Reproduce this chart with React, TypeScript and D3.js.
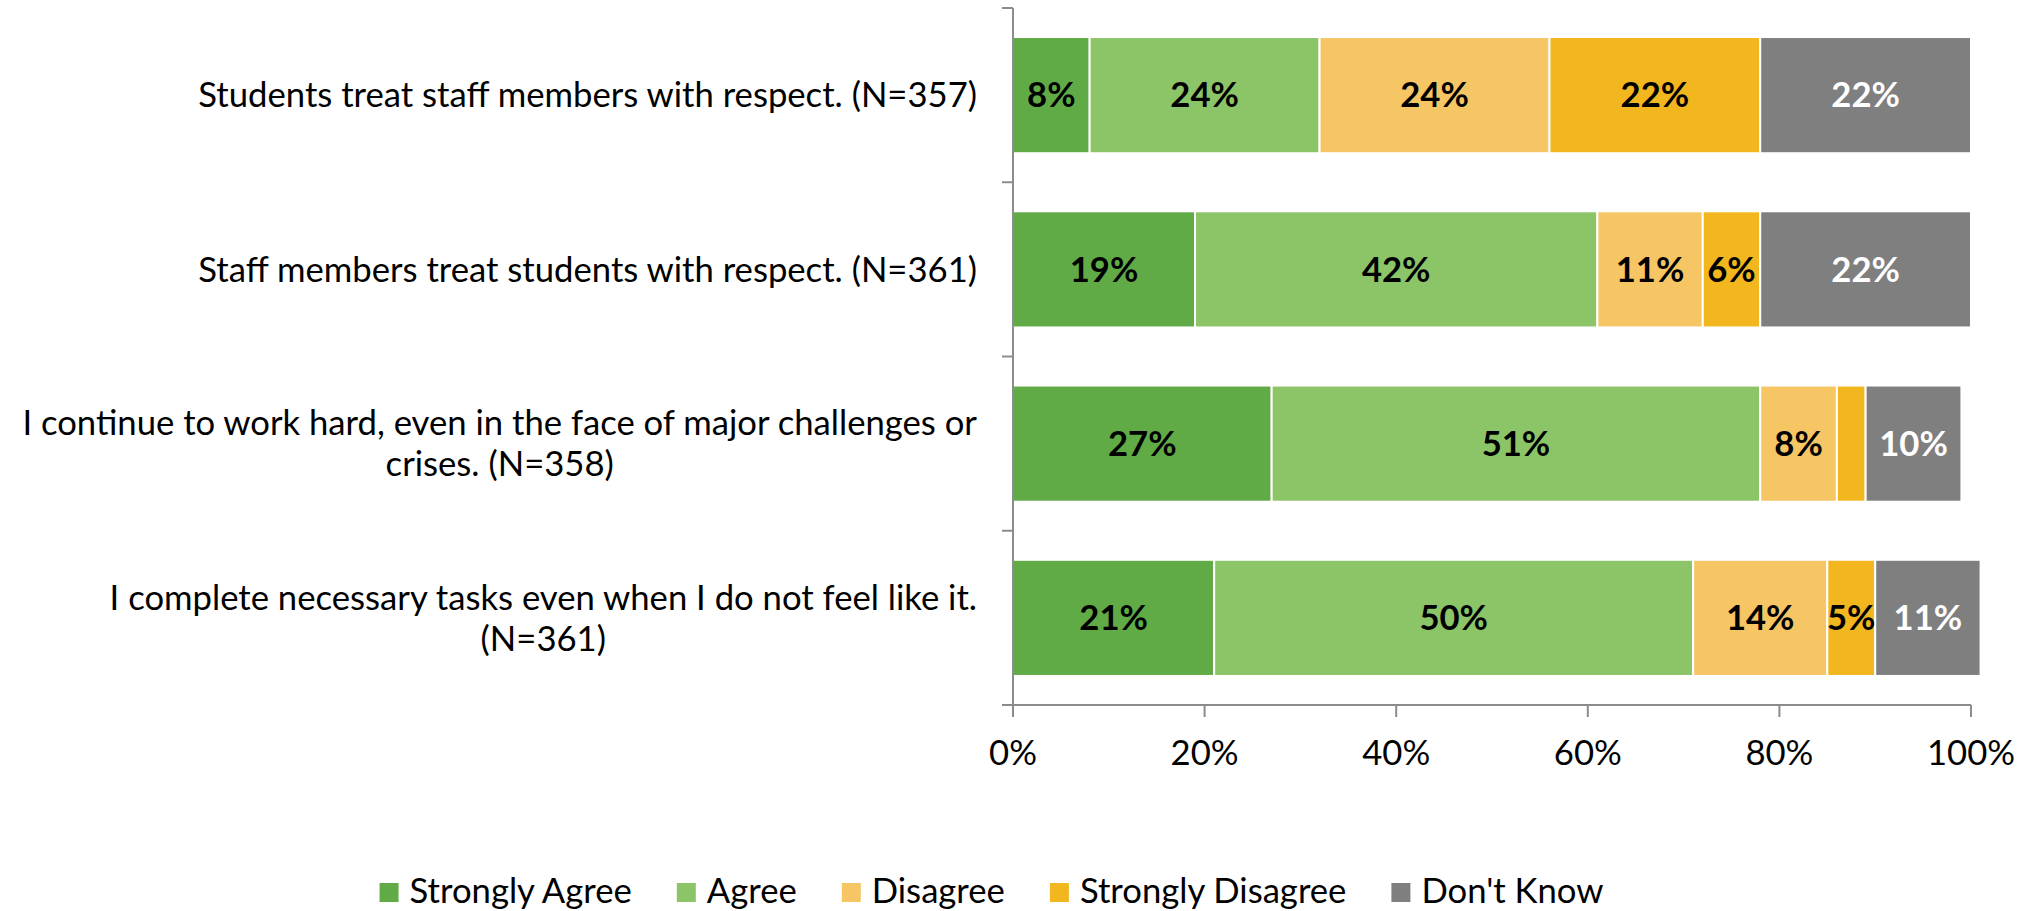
import React, { useEffect, useRef } from "react";
import * as d3 from "d3";

const categories: string[][] = [
  ["Students treat staff members with respect. (N=357)"],
  ["Staff members treat students with respect. (N=361)"],
  ["I continue to work hard, even in the face of major challenges or", "crises. (N=358)"],
  ["I complete necessary tasks even when I do not feel like it.", "(N=361)"],
];
const seriesNames = ["Strongly Agree", "Agree", "Disagree", "Strongly Disagree", "Don't Know"];
const stronglyAgree = [8, 19, 27, 21];
const agree = [24, 42, 51, 50];
const disagree = [24, 11, 8, 14];
const stronglyDisagree = [22, 6, 3, 5];
const dontKnow = [22, 22, 10, 11];
const seriesColors = ["#60AB45", "#8CC468", "#F6C564", "#F2B61F", "#7F7F7F"];
const labelColors = ["#000000", "#000000", "#000000", "#000000", "#FFFFFF"];
const xTicks = [0, 20, 40, 60, 80, 100];

const W = 2030;
const H = 911;
const FONT = "Lato, 'Open Sans', sans-serif";

export default function App() {
  const ref = useRef<SVGSVGElement | null>(null);

  useEffect(() => {
    document.body.style.margin = "0";
    const svg = d3.select(ref.current);
    svg.selectAll("*").remove();

    // fit font size so the reference label width is matched
    const probe = svg.append("text").attr("font-family", FONT).attr("font-size", 37).text(categories[0][0]);
    const pw = (probe.node() as SVGTextElement).getComputedTextLength();
    probe.remove();
    const fs = pw > 0 ? 37 * (779 / pw) : 37;

    const values = [stronglyAgree, agree, disagree, stronglyDisagree, dontKnow];
    const idx = categories.map((_, i) => i);

    const x = d3.scaleLinear().domain([0, 100]).range([1013, 1971]);
    const y = d3.scaleBand<number>().domain(idx).range([8, 705]).paddingInner(1 / 3).paddingOuter(1 / 6);
    const step = y.step();

    const stackData = idx.map((i) => {
      const o: any = { i };
      seriesNames.forEach((s, k) => (o[s] = values[k][i]));
      return o;
    });
    const stacked = d3.stack<any>().keys(seriesNames)(stackData);

    const axisColor = "#8C8C8C";
    const g = svg.append("g");

    // bars
    stacked.forEach((layer, k) => {
      g.append("g")
        .selectAll("rect")
        .data(layer)
        .join("rect")
        .attr("x", (d) => x(d[0]))
        .attr("y", (d) => y(d.data.i)!)
        .attr("width", (d) => x(d[1]) - x(d[0]))
        .attr("height", y.bandwidth())
        .attr("fill", seriesColors[k])
        .attr("stroke", "#FFFFFF")
        .attr("stroke-width", 2);
    });

    // data labels
    stacked.forEach((layer, k) => {
      g.append("g")
        .selectAll("text")
        .data(layer.filter((d) => d[1] - d[0] >= 4))
        .join("text")
        .attr("x", (d) => (x(d[0]) + x(d[1])) / 2)
        .attr("y", (d) => y(d.data.i)! + y.bandwidth() / 2 + fs * 0.35)
        .attr("text-anchor", "middle")
        .attr("font-family", FONT)
        .attr("font-weight", 700)
        .attr("font-size", fs)
        .attr("fill", labelColors[k])
        .text((d) => `${d[1] - d[0]}%`);
    });

    // y axis
    const y0 = y.range()[0];
    const yEnd = y.range()[1];
    g.append("line")
      .attr("x1", x(0)).attr("x2", x(0))
      .attr("y1", y0).attr("y2", yEnd + 12)
      .attr("stroke", axisColor).attr("stroke-width", 2);
    d3.range(categories.length + 1).forEach((j) => {
      const ty = y0 + j * step;
      g.append("line")
        .attr("x1", x(0) - 11).attr("x2", x(0))
        .attr("y1", ty).attr("y2", ty)
        .attr("stroke", axisColor).attr("stroke-width", 2);
    });

    // x axis
    g.append("line")
      .attr("x1", x(0) - 11).attr("x2", x(100))
      .attr("y1", yEnd).attr("y2", yEnd)
      .attr("stroke", axisColor).attr("stroke-width", 2);
    xTicks.forEach((t) => {
      g.append("line")
        .attr("x1", x(t)).attr("x2", x(t))
        .attr("y1", yEnd).attr("y2", yEnd + 12)
        .attr("stroke", axisColor).attr("stroke-width", 2);
      g.append("text")
        .attr("x", x(t))
        .attr("y", 765)
        .attr("text-anchor", "middle")
        .attr("font-family", FONT)
        .attr("font-size", fs)
        .attr("fill", "#000")
        .text(`${t}%`);
    });

    // category labels
    const labelRight = 977;
    const lineH = 41;
    categories.forEach((lines, i) => {
      const cy = y(i)! + y.bandwidth() / 2;
      const texts = lines.map((ln, li) =>
        g.append("text")
          .attr("font-family", FONT)
          .attr("font-size", fs)
          .attr("fill", "#000")
          .attr("text-anchor", "middle")
          .attr("y", cy + fs * 0.35 + (li - (lines.length - 1) / 2) * lineH)
          .text(ln)
      );
      const widths = texts.map((t) => (t.node() as SVGTextElement).getComputedTextLength());
      const maxW = d3.max(widths) || 0;
      texts.forEach((t) => t.attr("x", labelRight - maxW / 2));
    });

    // legend
    const sq = 19;
    const gapSq = 11;
    const gapItem = 45;
    const legendG = g.append("g");
    const items = seriesNames.map((name, k) => {
      const it = legendG.append("g");
      it.append("rect").attr("width", sq).attr("height", sq).attr("y", 883).attr("fill", seriesColors[k]);
      const tx = it.append("text")
        .attr("x", sq + gapSq)
        .attr("y", 903)
        .attr("font-family", FONT)
        .attr("font-size", fs)
        .attr("fill", "#000")
        .text(name);
      return { it, w: (tx.node() as SVGTextElement).getComputedTextLength() };
    });
    const total = d3.sum(items, (d) => sq + gapSq + d.w) + gapItem * (items.length - 1);
    let cx = 991.5 - total / 2;
    items.forEach((d) => {
      d.it.attr("transform", `translate(${cx},0)`);
      cx += sq + gapSq + d.w + gapItem;
    });
  }, []);

  return <svg ref={ref} width={W} height={H} style={{ display: "block", background: "#fff" }} />;
}
